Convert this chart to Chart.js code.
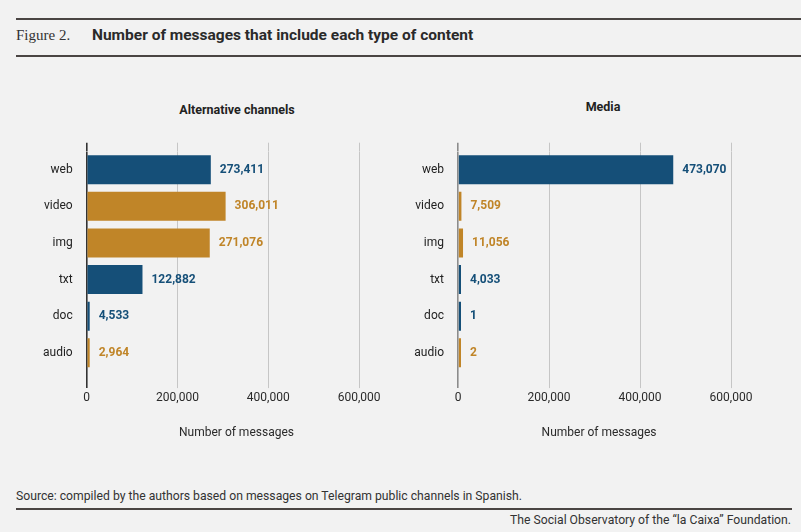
<!DOCTYPE html>
<html>
<head>
<meta charset="utf-8">
<script src="https://cdn.jsdelivr.net/npm/chart.js@4.4.1/dist/chart.umd.min.js"></script>
<style>
  html, body { margin: 0; padding: 0; background: #f2f2f2; }
  body { width: 801px; height: 532px; position: relative; overflow: hidden; font-family: Roboto, sans-serif; color: #222; }
  .rule { position: absolute; left: 16px; height: 2px; background: #4a4543; }
  .abs { position: absolute; white-space: nowrap; }
  canvas { position: absolute; }
</style>
</head>
<body>
<div class="rule" style="top:18px; right:0;"></div>
<div class="abs" style="left:16px; top:26px; font-family:'Liberation Serif',serif; font-size:15px; line-height:18px; color:#333;">Figure 2.</div>
<div class="abs" style="left:92px; top:26px; font-weight:bold; font-size:15.5px; line-height:18px; color:#2a2a2a;">Number of messages that include each type of content</div>
<div class="rule" style="top:55px; right:0;"></div>

<div class="abs" style="left:137px; width:200px; text-align:center; top:102px; font-weight:bold; font-size:12.5px; line-height:16px;">Alternative channels</div>
<div class="abs" style="left:503px; width:200px; text-align:center; top:99px; font-weight:bold; font-size:12.5px; line-height:16px;">Media</div>

<canvas id="altChart" width="413" height="310" style="left:30px; top:140px;"></canvas>
<canvas id="mediaChart" width="401" height="310" style="left:400px; top:140px;"></canvas>

<div class="abs" style="left:16px; top:488px; font-size:12.2px; line-height:16px; color:#333;">Source: compiled by the authors based on messages on Telegram public channels in Spanish.</div>
<div class="rule" style="top:508px; width:776px;"></div>
<div class="abs" style="right:10px; top:512px; font-size:12.2px; line-height:16px; color:#333;">The Social Observatory of the “la Caixa” Foundation.</div>

<script>
const categories = ['web', 'video', 'img', 'txt', 'doc', 'audio'];
const altValues = [273411, 306011, 271076, 122882, 4533, 2964];
const mediaValues = [473070, 7509, 11056, 4033, 1, 2];
const tickValues = [0, 200000, 400000, 600000];

const BLUE = '#154f78';
const GOLD = '#c08528';
const barColors = [BLUE, GOLD, GOLD, BLUE, BLUE, GOLD];

// value labels just right of each bar
const valueLabels = {
    id: 'valueLabels',
    afterDatasetsDraw(chart) {
        const ctx = chart.ctx;
        const meta = chart.getDatasetMeta(0);
        const data = chart.data.datasets[0].data;
        ctx.save();
        ctx.font = 'bold 12px Roboto, sans-serif';
        ctx.textBaseline = 'middle';
        ctx.textAlign = 'left';
        meta.data.forEach((bar, i) => {
            ctx.fillStyle = barColors[i];
            ctx.fillText(data[i].toLocaleString('en-US'), bar.x + 9, bar.y);
        });
        ctx.restore();
    }
};

function makeChart(id, values, xMax, yWidth, zeroColor, padRight) {
    const gridColor = c => (c.tick && c.tick.value === 0) ? zeroColor : '#c6c6c6';
    const gridWidth = c => (c.tick && c.tick.value === 0) ? 1.6 : 1;
    const keepTicks = s => { s.ticks = tickValues.map(v => ({ value: v })); };
    return new Chart(document.getElementById(id), {
        type: 'bar',
        data: {
            labels: categories,
            datasets: [{
                data: values,
                backgroundColor: barColors,
                barPercentage: 0.79,
                categoryPercentage: 1,
                minBarLength: 3
            }]
        },
        options: {
            indexAxis: 'y',
            responsive: false,
            animation: false,
            devicePixelRatio: 1,
            layout: { padding: { top: 2.7, right: padRight, left: 0, bottom: 0 } },
            plugins: { legend: { display: false }, tooltip: { enabled: false } },
            scales: {
                x: {
                    position: 'bottom',
                    min: 0,
                    max: xMax,
                    afterBuildTicks: keepTicks,
                    afterFit: s => { s.height = 78.9; },
                    border: { display: false },
                    grid: { color: gridColor, lineWidth: gridWidth, tickLength: 17 },
                    ticks: {
                        padding: 3,
                        color: '#2a2a2a',
                        font: { family: 'Roboto', size: 12 },
                        callback: v => v.toLocaleString('en-US')
                    },
                    title: {
                        display: true,
                        text: 'Number of messages',
                        color: '#2a2a2a',
                        font: { family: 'Roboto', size: 12 },
                        padding: { top: 0, bottom: 9.8 }
                    }
                },
                xTop: {
                    axis: 'x',
                    position: 'top',
                    min: 0,
                    max: xMax,
                    afterBuildTicks: keepTicks,
                    afterFit: s => { s.height = 8.7; },
                    border: { display: false },
                    grid: { color: gridColor, lineWidth: gridWidth, tickLength: 8.7, drawOnChartArea: false },
                    ticks: { display: false }
                },
                y: {
                    afterFit: s => { s.width = yWidth; s.paddingTop = 0; s.paddingBottom = 0; },
                    border: { display: false },
                    grid: { display: false, drawTicks: false },
                    ticks: {
                        padding: 14,
                        color: '#222',
                        font: { family: 'Roboto', size: 12 }
                    }
                }
            }
        },
        plugins: [valueLabels]
    });
}

document.addEventListener('DOMContentLoaded', () => {
    makeChart('altChart', altValues, 660000, 56.7, '#333333', 56.7);
    makeChart('mediaChart', mediaValues, 620000, 58, '#8c8c8c', 60.9);
});
</script>
</body>
</html>
